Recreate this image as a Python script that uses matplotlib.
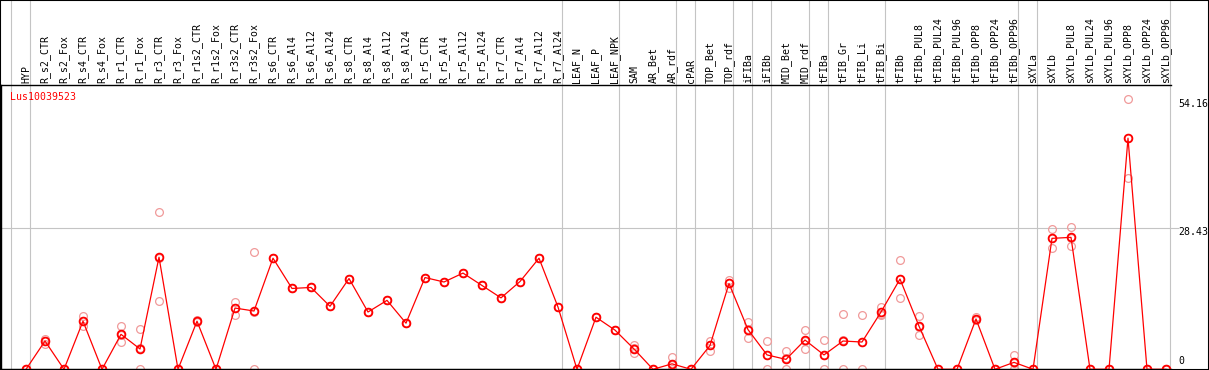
import matplotlib
matplotlib.use('Agg')
import matplotlib.pyplot as plt
from matplotlib.transforms import blended_transform_factory, offset_copy
from matplotlib.patches import Rectangle
import numpy as np

# ---------------- data ----------------
gene = "Lus10039523"

labels = ["HYP", "R_s2_CTR", "R_s2_Fox", "R_s4_CTR", "R_s4_Fox", "R_r1_CTR", "R_r1_Fox",
          "R_r3_CTR", "R_r3_Fox", "R_r1s2_CTR", "R_r1s2_Fox", "R_r3s2_CTR", "R_r3s2_Fox",
          "R_s6_CTR", "R_s6_Al4", "R_s6_Al12", "R_s6_Al24", "R_s8_CTR", "R_s8_Al4",
          "R_s8_Al12", "R_s8_Al24", "R_r5_CTR", "R_r5_Al4", "R_r5_Al12", "R_r5_Al24",
          "R_r7_CTR", "R_r7_Al4", "R_r7_Al12", "R_r7_Al24", "LEAF_N", "LEAF_P", "LEAF_NPK",
          "SAM", "AR_Bet", "AR_rdf", "cPAR", "TOP_Bet", "TOP_rdf", "iFIBa", "iFIBb",
          "MID_Bet", "MID_rdf", "tFIBa", "tFIB_Gr", "tFIB_Li", "tFIB_Bi", "tFIBb",
          "tFIBb_PUL8", "tFIBb_PUL24", "tFIBb_PUL96", "tFIBb_OPP8", "tFIBb_OPP24",
          "tFIBb_OPP96", "sXYLa", "sXYLb", "sXYLb_PUL8", "sXYLb_PUL24", "sXYLb_PUL96",
          "sXYLb_OPP8", "sXYLb_OPP24", "sXYLb_OPP96"]

group_sizes = [1, 28, 3, 3, 1, 2, 1, 1, 2, 1, 3, 7, 1, 7]

mean_vals = [0, 5.7, 0, 9.7, 0, 7.05, 4.1, 22.6, 0, 9.7, 0, 12.35, 11.75,
             22.4, 16.3, 16.5, 12.7, 18.3, 11.55, 13.9, 9.3, 18.5, 17.6, 19.4, 16.9,
             14.4, 17.7, 22.4, 12.55, 0, 10.5, 7.9,
             4.1, 0, 1.1, 0, 4.8, 17.3, 8.0, 2.9,
             2.0, 5.9, 2.9, 5.7, 5.5, 11.55, 18.2,
             8.7, 0, 0, 10.15, 0, 1.4, 0,
             26.4, 26.6, 0, 0, 46.6, 0, 0]

rep_a = [0, 6.2, 0, 10.7, 0, 8.7, 8.1, 31.65, 0, 9.9, 0, 13.6, 23.65,
         22.4, 16.3, 16.5, 12.7, 18.3, 11.55, 13.9, 9.3, 18.5, 17.6, 19.4, 16.9,
         14.4, 17.7, 22.4, 12.55, 0, 10.5, 7.9,
         4.8, 0, 2.5, 0, 5.8, 18.1, 9.5, 5.8,
         3.7, 7.9, 5.9, 11.15, 10.9, 12.6, 22.0,
         10.75, 0, 0, 10.6, 0, 2.9, 0,
         28.35, 28.6, 0, 0, 54.4, 0, 0]

rep_b = [0, 5.1, 0, 8.7, 0, 5.6, 0, 13.8, 0, 9.5, 0, 11.0, 0,
         22.4, 16.3, 16.5, 12.7, 18.3, 11.55, 13.9, 9.3, 18.5, 17.6, 19.4, 16.9,
         14.4, 17.7, 22.4, 12.55, 0, 10.5, 7.9,
         3.2, 0, 0, 0, 3.75, 16.3, 6.4, 0,
         0, 4.1, 0, 0, 0, 11.15, 14.3,
         6.85, 0, 0, 9.9, 0, 0, 0,
         24.4, 24.8, 0, 0, 38.6, 0, 0]

rep_c = [0, 5.8, 0, 9.7, 0, 6.9, 4.2, 22.35, 0, 9.7, 0, 12.45, 11.6,
         22.4, 16.3, 16.5, 12.7, 18.3, 11.55, 13.9, 9.3, 18.5, 17.6, 19.4, 16.9,
         14.4, 17.7, 22.4, 12.55, 0, 10.5, 7.9,
         4.3, 0, 0.8, 0, 4.85, 17.5, 8.1, 2.9,
         2.3, 5.7, 2.8, 5.95, 5.6, 10.9, 18.3,
         8.5, 0, 0, 9.95, 0, 1.3, 0,
         26.45, 26.4, 0, 0, 46.6, 0, 0]

y_marks = [0, 28.43, 54.16]

# ---------------- layout ----------------
W, H = 1209, 370
PX_X0, PX_STEP = 26.0, 19.0          # pixel x of first sample, spacing
AX_L, AX_R, AX_T, AX_B = 1.0, 1171.0, 85.0, 369.3
PX_PER_UNIT = 4.96
MONO = 'DejaVu Sans Mono'
FS = 7.1
GRAY = '#c4c4c4'

fig = plt.figure(figsize=(W / 100, H / 100), dpi=100)
ax = fig.add_axes([AX_L / W, (H - AX_B) / H, (AX_R - AX_L) / W, (AX_B - AX_T) / H])
ax.set_xlim((AX_L - PX_X0) / PX_STEP, (AX_R - PX_X0) / PX_STEP)
ax.set_ylim(0, (AX_B - AX_T) / PX_PER_UNIT)
ax.set_xticks([])
ax.set_yticks([])
for s in ['left', 'top', 'bottom']:
    ax.spines[s].set_color('black')
    ax.spines[s].set_linewidth(1.0)
ax.spines['right'].set_visible(False)

x = np.arange(len(labels))
ax_h = AX_B - AX_T

# group separators
bounds = np.cumsum([0] + group_sizes) - 1
ext = AX_B / ax_h
for b in bounds:
    ax.axvline(b + 4.0 / PX_STEP, 0, ext, color=GRAY, lw=0.8, clip_on=False, zorder=1)

# horizontal mid line
ax.axhline(y_marks[1], 0, (1178 - AX_L) / (AX_R - AX_L), color=GRAY, lw=0.8,
           clip_on=False, zorder=1)

# replicates
for r in (rep_a, rep_b, rep_c):
    ax.plot(x, r, 'o', ms=5.6, mfc='none', mec='#f09a9a', mew=0.9,
            clip_on=False, zorder=2)

# mean line + markers
ax.plot(x, mean_vals, '-', color='red', lw=0.9, zorder=3, clip_on=False)
ax.plot(x, mean_vals, 'o', ms=5.6, mfc='none', mec='red', mew=1.3,
        zorder=4, clip_on=False)

# header labels
trans_h = blended_transform_factory(ax.transData, ax.transAxes)
for i, lab in enumerate(labels):
    ax.text(i, 1 + 2.0 / ax_h, lab, rotation=90, ha='center', va='bottom',
            fontsize=FS, family=MONO, transform=trans_h, color='black')

# gene title
ax.text((10 - AX_L) / (AX_R - AX_L), (AX_B - 97) / ax_h, gene, color='red',
        ha='left', va='center', fontsize=FS, family=MONO, transform=ax.transAxes)

# right value labels
trans_r = blended_transform_factory(ax.transAxes, ax.transData)
lx = (1178 - AX_L) / (AX_R - AX_L)
for v in y_marks:
    if v == 0:
        t = offset_copy(trans_r, fig=fig, y=3, units='dots')
        ax.text(lx, v, "0", ha='left', va='bottom', fontsize=FS, family=MONO,
                transform=t, clip_on=False)
    else:
        t = offset_copy(trans_r, fig=fig, y=-3.4, units='dots')
        ax.text(lx, v, f"{v:.2f}", ha='left', va='center', fontsize=FS, family=MONO,
                transform=t, clip_on=False)

# figure border
fig.add_artist(Rectangle((0, 0), 1, 1, transform=fig.transFigure, fill=False,
                         ec='black', lw=1.5, clip_on=False))

fig.savefig('out.png', dpi=100)
